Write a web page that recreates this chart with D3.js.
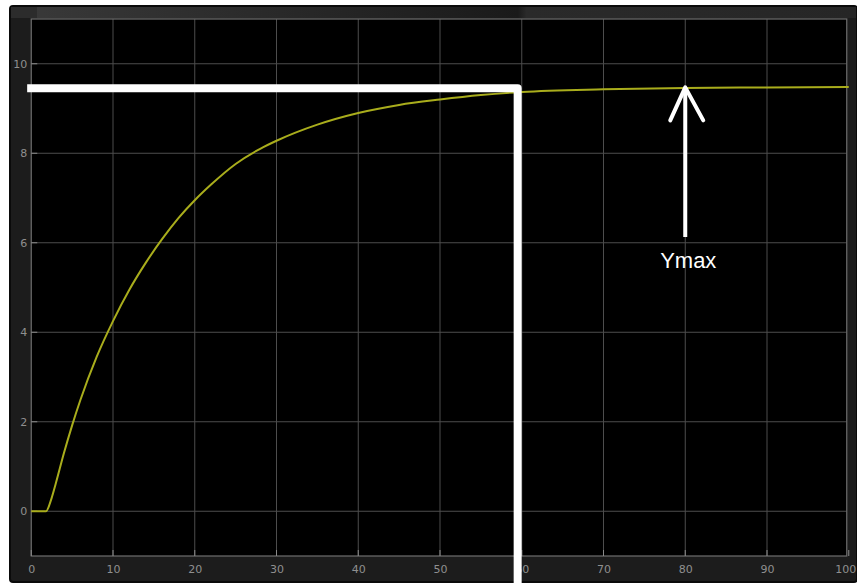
<!DOCTYPE html>
<html>
<head>
<meta charset="utf-8">
<script src="https://cdn.jsdelivr.net/npm/d3@7"></script>
<style>
  html, body { margin: 0; padding: 0; background: #ffffff; }
  svg { display: block; }
</style>
</head>
<body>
<svg id="chart" width="857" height="588"></svg>
<script>
// ---- data ----
const timeValues = [0, 1.8, 2.5, 3, 4, 5, 6, 8, 10, 12, 14, 16, 18, 20, 22, 25, 28, 30, 35, 40, 45, 50, 55, 60, 70, 80, 90, 100];
const outputValues = [0, 0, 0.3, 0.62, 1.3, 1.92, 2.48, 3.45, 4.25, 4.95, 5.55, 6.08, 6.55, 6.95, 7.3, 7.76, 8.1, 8.28, 8.64, 8.9, 9.08, 9.2, 9.3, 9.37, 9.43, 9.46, 9.47, 9.48];
const xTicks = [0, 10, 20, 30, 40, 50, 60, 70, 80, 90, 100];
const yTicks = [0, 2, 4, 6, 8, 10];
const ymaxValue = 9.45;
const ymaxTime = 59.5;
const arrowTime = 80;
const arrowLabel = "Ymax";

// ---- layout ----
const svg = d3.select("#chart");
const plot = { left: 31.25, right: 848.75, top: 19, bottom: 556 };
const x = d3.scaleLinear().domain([0, 100]).range([plot.left, plot.right]);
const y = d3.scaleLinear().domain([-1, 11]).range([plot.bottom, plot.top]);

// outer dark frame
svg.append("rect").attr("x", 10).attr("y", 6).attr("width", 847).attr("height", 576)
  .attr("rx", 3).attr("fill", "#1c1c1c").attr("stroke", "#0a0a0a").attr("stroke-width", 2);
// top toolbar strip
const grad = svg.append("defs").append("linearGradient").attr("id", "tb")
  .attr("x1", "0").attr("x2", "1").attr("y1", "0").attr("y2", "0");
grad.append("stop").attr("offset", "0").attr("stop-color", "#3a3a3a");
grad.append("stop").attr("offset", "0.6").attr("stop-color", "#1a1a1a");
grad.append("stop").attr("offset", "0.61").attr("stop-color", "#2a2a2a");
grad.append("stop").attr("offset", "1").attr("stop-color", "#262626");
svg.append("rect").attr("x", 11).attr("y", 7).attr("width", 845).attr("height", 11).attr("fill", "url(#tb)");
svg.append("rect").attr("x", 11).attr("y", 7).attr("width", 26).attr("height", 11).attr("fill", "#2c2c2c");

// plot background
svg.append("rect").attr("x", plot.left).attr("y", plot.top)
  .attr("width", plot.right - plot.left - 2).attr("height", plot.bottom - plot.top)
  .attr("fill", "#000000");

// grid
const grid = svg.append("g");
grid.selectAll("line.vx").data(xTicks.slice(1, -1)).join("line")
  .attr("x1", d => x(d)).attr("x2", d => x(d))
  .attr("y1", plot.top).attr("y2", plot.bottom)
  .attr("stroke", "#4d4d4d").attr("stroke-width", 1);
grid.selectAll("line.hy").data(yTicks).join("line")
  .attr("x1", plot.left).attr("x2", plot.right - 2)
  .attr("y1", d => y(d)).attr("y2", d => y(d))
  .attr("stroke", "#4d4d4d").attr("stroke-width", 1);

// plot border
svg.append("rect").attr("x", plot.left).attr("y", plot.top)
  .attr("width", plot.right - plot.left - 2).attr("height", plot.bottom - plot.top)
  .attr("fill", "none").attr("stroke", "#6e6e6e").attr("stroke-width", 1.2);

// axes
const xAxis = d3.axisBottom(x).tickValues(xTicks).tickSize(0).tickPadding(9).tickFormat(d3.format("d"));
const gx = svg.append("g").attr("transform", `translate(0,${plot.bottom})`).call(xAxis);
gx.select(".domain").remove();
gx.selectAll("text").attr("fill", "#8f8f8f").attr("font-family", "DejaVu Sans, sans-serif").attr("font-size", 11);
gx.selectAll(".tick").filter(d => d === 100).select("text").attr("text-anchor", "end").attr("dx", 7);

const yAxis = d3.axisLeft(y).tickValues(yTicks).tickSize(0).tickPadding(4).tickFormat(d3.format("d"));
const gy = svg.append("g").attr("transform", `translate(${plot.left},0)`).call(yAxis);
gy.select(".domain").remove();
gy.selectAll("text").attr("fill", "#8f8f8f").attr("font-family", "DejaVu Sans, sans-serif").attr("font-size", 11);

// small inner tick marks
svg.append("g").selectAll("line").data(xTicks).join("line")
  .attr("x1", d => x(d)).attr("x2", d => x(d))
  .attr("y1", plot.bottom).attr("y2", plot.bottom - 6)
  .attr("stroke", "#8a8a8a");
svg.append("g").selectAll("line").data(yTicks).join("line")
  .attr("x1", plot.left).attr("x2", plot.left + 6)
  .attr("y1", d => y(d)).attr("y2", d => y(d))
  .attr("stroke", "#8a8a8a");

// response curve
const series = timeValues.map((t, i) => ({ t, v: outputValues[i] }));
svg.append("path").datum(series)
  .attr("d", d3.line().x(d => x(d.t)).y(d => y(d.v)).curve(d3.curveMonotoneX))
  .attr("fill", "none").attr("stroke", "#a9ad1c").attr("stroke-width", 2);

// Ymax marker lines (white)
const ymaxPath = d3.path();
ymaxPath.moveTo(x(-0.5), y(ymaxValue));
ymaxPath.lineTo(x(ymaxTime), y(ymaxValue));
ymaxPath.lineTo(x(ymaxTime), 592);
svg.append("path").attr("d", ymaxPath.toString())
  .attr("fill", "none").attr("stroke", "#ffffff").attr("stroke-width", 8)
  .attr("stroke-linejoin", "round");

// arrow
const ax = x(arrowTime);
const tipY = y(ymaxValue) - 1;
svg.append("line").attr("x1", ax).attr("x2", ax).attr("y1", 237).attr("y2", tipY + 2)
  .attr("stroke", "#ffffff").attr("stroke-width", 4);
svg.append("path")
  .attr("d", `M${ax - 15},${tipY + 33} L${ax},${tipY} L${ax + 18},${tipY + 33}`)
  .attr("fill", "none").attr("stroke", "#ffffff").attr("stroke-width", 4)
  .attr("stroke-linejoin", "round").attr("stroke-linecap", "round");
svg.append("text").attr("x", ax + 3).attr("y", 268).attr("text-anchor", "middle")
  .attr("fill", "#ffffff").attr("font-family", "Liberation Sans, Arial, sans-serif")
  .attr("font-size", 22).text(arrowLabel);
</script>
</body>
</html>
